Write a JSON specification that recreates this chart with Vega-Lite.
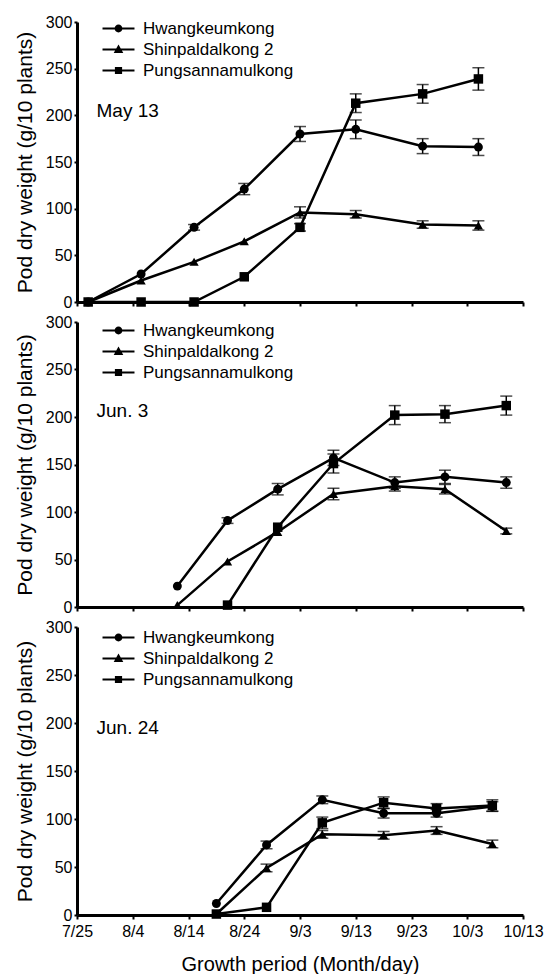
{
  "$schema": "https://vega.github.io/schema/vega-lite/v6.json",
  "padding": {"left": 14, "top": 14, "right": 5, "bottom": 0},
  "bounds": "flush",
  "spacing": 20,
  "datasets": {
    "p1": [
      {"v": "Hwangkeumkong", "d": 2, "w": 0, "e": 0},
      {"v": "Hwangkeumkong", "d": 11.5, "w": 30, "e": 0},
      {"v": "Hwangkeumkong", "d": 21, "w": 80, "e": 3},
      {"v": "Hwangkeumkong", "d": 30, "w": 121, "e": 6},
      {"v": "Hwangkeumkong", "d": 40, "w": 180, "e": 8},
      {"v": "Hwangkeumkong", "d": 50, "w": 185, "e": 10},
      {"v": "Hwangkeumkong", "d": 62, "w": 167, "e": 8},
      {"v": "Hwangkeumkong", "d": 72, "w": 166, "e": 9},
      {"v": "Shinpaldalkong 2", "d": 2, "w": 0, "e": 0},
      {"v": "Shinpaldalkong 2", "d": 11.5, "w": 23, "e": 0},
      {"v": "Shinpaldalkong 2", "d": 21, "w": 43, "e": 0},
      {"v": "Shinpaldalkong 2", "d": 30, "w": 65, "e": 0},
      {"v": "Shinpaldalkong 2", "d": 40, "w": 96, "e": 6},
      {"v": "Shinpaldalkong 2", "d": 50, "w": 94, "e": 4},
      {"v": "Shinpaldalkong 2", "d": 62, "w": 83, "e": 4},
      {"v": "Shinpaldalkong 2", "d": 72, "w": 82, "e": 5},
      {"v": "Pungsannamulkong", "d": 2, "w": 0, "e": 0},
      {"v": "Pungsannamulkong", "d": 11.5, "w": 0, "e": 0},
      {"v": "Pungsannamulkong", "d": 21, "w": 0, "e": 0},
      {"v": "Pungsannamulkong", "d": 30, "w": 27, "e": 0},
      {"v": "Pungsannamulkong", "d": 40, "w": 80, "e": 4},
      {"v": "Pungsannamulkong", "d": 50, "w": 213, "e": 10},
      {"v": "Pungsannamulkong", "d": 62, "w": 223, "e": 10},
      {"v": "Pungsannamulkong", "d": 72, "w": 239, "e": 12}
    ],
    "p2": [
      {"v": "Hwangkeumkong", "d": 18, "w": 22, "e": 0},
      {"v": "Hwangkeumkong", "d": 27, "w": 91, "e": 3},
      {"v": "Hwangkeumkong", "d": 36, "w": 124, "e": 6},
      {"v": "Hwangkeumkong", "d": 46, "w": 157, "e": 8},
      {"v": "Hwangkeumkong", "d": 57, "w": 131, "e": 6},
      {"v": "Hwangkeumkong", "d": 66, "w": 137, "e": 7},
      {"v": "Hwangkeumkong", "d": 77, "w": 131, "e": 6},
      {"v": "Shinpaldalkong 2", "d": 18, "w": 2, "e": 0},
      {"v": "Shinpaldalkong 2", "d": 27, "w": 48, "e": 0},
      {"v": "Shinpaldalkong 2", "d": 36, "w": 79, "e": 0},
      {"v": "Shinpaldalkong 2", "d": 46, "w": 119, "e": 6},
      {"v": "Shinpaldalkong 2", "d": 57, "w": 127, "e": 5},
      {"v": "Shinpaldalkong 2", "d": 66, "w": 124, "e": 5},
      {"v": "Shinpaldalkong 2", "d": 77, "w": 80, "e": 3},
      {"v": "Pungsannamulkong", "d": 27, "w": 2, "e": 0},
      {"v": "Pungsannamulkong", "d": 36, "w": 84, "e": 0},
      {"v": "Pungsannamulkong", "d": 46, "w": 151, "e": 10},
      {"v": "Pungsannamulkong", "d": 57, "w": 202, "e": 10},
      {"v": "Pungsannamulkong", "d": 66, "w": 203, "e": 9},
      {"v": "Pungsannamulkong", "d": 77, "w": 212, "e": 10}
    ],
    "p3": [
      {"v": "Hwangkeumkong", "d": 25, "w": 12, "e": 0},
      {"v": "Hwangkeumkong", "d": 34, "w": 73, "e": 4},
      {"v": "Hwangkeumkong", "d": 44, "w": 120, "e": 4},
      {"v": "Hwangkeumkong", "d": 55, "w": 106, "e": 5},
      {"v": "Hwangkeumkong", "d": 64.5, "w": 106, "e": 4},
      {"v": "Hwangkeumkong", "d": 74.5, "w": 113, "e": 5},
      {"v": "Shinpaldalkong 2", "d": 25, "w": 1, "e": 0},
      {"v": "Shinpaldalkong 2", "d": 34, "w": 49, "e": 4},
      {"v": "Shinpaldalkong 2", "d": 44, "w": 84, "e": 4},
      {"v": "Shinpaldalkong 2", "d": 55, "w": 83, "e": 4},
      {"v": "Shinpaldalkong 2", "d": 64.5, "w": 88, "e": 4},
      {"v": "Shinpaldalkong 2", "d": 74.5, "w": 74, "e": 4},
      {"v": "Pungsannamulkong", "d": 25, "w": 1, "e": 0},
      {"v": "Pungsannamulkong", "d": 34, "w": 8, "e": 0},
      {"v": "Pungsannamulkong", "d": 44, "w": 96, "e": 6},
      {"v": "Pungsannamulkong", "d": 55, "w": 117, "e": 6},
      {"v": "Pungsannamulkong", "d": 64.5, "w": 111, "e": 5},
      {"v": "Pungsannamulkong", "d": 74.5, "w": 114, "e": 6}
    ]
  },
  "vconcat": [
    {
      "width": 446, "height": 280,
      "layer": [
        {"data": {"name": "p1"}, "mark": {"type": "line", "color": "black", "strokeWidth": 2.5},
         "encoding": {
           "x": {"field": "d", "type": "quantitative", "scale": {"domain": [0, 80], "nice": false}, "axis": {"values": [0,10,20,30,40,50,60,70,80], "labels": false, "title": null}},
           "y": {"field": "w", "type": "quantitative", "scale": {"domain": [0, 300], "nice": false}, "axis": {"values": [0,50,100,150,200,250,300], "title": "Pod dry weight (g/10 plants)"}},
           "detail": {"field": "v"}}},
        {"data": {"name": "p1"}, "transform": [{"filter": "datum.e > 0"}],
         "mark": {"type": "errorbar", "ticks": {"size": 12}, "thickness": 1.5, "color": "black"},
         "encoding": {
           "x": {"field": "d", "type": "quantitative", "axis": {"values": [0,10,20,30,40,50,60,70,80], "labels": false, "title": null}},
           "y": {"field": "w", "type": "quantitative", "title": "Pod dry weight (g/10 plants)"},
           "yError": {"field": "e"}}},
        {"data": {"name": "p1"}, "mark": {"type": "point", "filled": true, "color": "black", "opacity": 1},
         "encoding": {
           "x": {"field": "d", "type": "quantitative", "title": null},
           "y": {"field": "w", "type": "quantitative", "title": "Pod dry weight (g/10 plants)"},
           "shape": {"field": "v", "type": "nominal", "scale": {"domain": ["Hwangkeumkong", "Shinpaldalkong 2", "Pungsannamulkong"], "range": ["circle", "triangle-up", "square"]}, "legend": null},
           "size": {"field": "v", "type": "nominal", "scale": {"domain": ["Hwangkeumkong", "Shinpaldalkong 2", "Pungsannamulkong"], "range": [80, 90, 95]}, "legend": null}}},
        {"data": {"name": "p1"}, "transform": [{"filter": "false"}],
         "mark": {"type": "point", "filled": true, "color": "black", "size": 36, "opacity": 1},
         "encoding": {
           "x": {"field": "d", "type": "quantitative", "title": null},
           "y": {"field": "w", "type": "quantitative", "title": "Pod dry weight (g/10 plants)"},
           "shape": {"field": "v", "type": "nominal", "scale": {"domain": ["Hwangkeumkong", "Shinpaldalkong 2", "Pungsannamulkong"], "range": ["M-5.33,-0.33L5.33,-0.33L5.33,0.33L-5.33,0.33ZM1.3,0A1.3,1.3,0,1,1,-1.3,0A1.3,1.3,0,1,1,1.3,0Z", "M-5.33,-0.33L5.33,-0.33L5.33,0.33L-5.33,0.33ZM0,-1.7L1.6,1.2L-1.6,1.2Z", "M-5.33,-0.33L5.33,-0.33L5.33,0.33L-5.33,0.33ZM-1.2,-1.2L1.2,-1.2L1.2,1.2L-1.2,1.2Z"]}, "legend": {"title": null, "legendY": -2}}}},
        {"data": {"values": [{"t": "May 13"}]}, "mark": {"type": "text", "align": "left", "baseline": "middle", "fontSize": 19, "color": "black"},
         "encoding": {"x": {"datum": 3.5, "type": "quantitative"}, "y": {"datum": 205, "type": "quantitative"}, "text": {"field": "t"}}}
      ],
      "resolve": {"scale": {"shape": "independent", "size": "independent"}, "legend": {"shape": "independent"}}
    },
    {
      "width": 446, "height": 285,
      "layer": [
        {"data": {"name": "p2"}, "mark": {"type": "line", "color": "black", "strokeWidth": 2.5},
         "encoding": {
           "x": {"field": "d", "type": "quantitative", "scale": {"domain": [0, 80], "nice": false}, "axis": {"values": [0,10,20,30,40,50,60,70,80], "labels": false, "title": null}},
           "y": {"field": "w", "type": "quantitative", "scale": {"domain": [0, 300], "nice": false}, "axis": {"values": [0,50,100,150,200,250,300], "title": "Pod dry weight (g/10 plants)"}},
           "detail": {"field": "v"}}},
        {"data": {"name": "p2"}, "transform": [{"filter": "datum.e > 0"}],
         "mark": {"type": "errorbar", "ticks": {"size": 12}, "thickness": 1.5, "color": "black"},
         "encoding": {
           "x": {"field": "d", "type": "quantitative", "axis": {"values": [0,10,20,30,40,50,60,70,80], "labels": false, "title": null}},
           "y": {"field": "w", "type": "quantitative", "title": "Pod dry weight (g/10 plants)"},
           "yError": {"field": "e"}}},
        {"data": {"name": "p2"}, "mark": {"type": "point", "filled": true, "color": "black", "opacity": 1},
         "encoding": {
           "x": {"field": "d", "type": "quantitative", "title": null},
           "y": {"field": "w", "type": "quantitative", "title": "Pod dry weight (g/10 plants)"},
           "shape": {"field": "v", "type": "nominal", "scale": {"domain": ["Hwangkeumkong", "Shinpaldalkong 2", "Pungsannamulkong"], "range": ["circle", "triangle-up", "square"]}, "legend": null},
           "size": {"field": "v", "type": "nominal", "scale": {"domain": ["Hwangkeumkong", "Shinpaldalkong 2", "Pungsannamulkong"], "range": [80, 90, 95]}, "legend": null}}},
        {"data": {"name": "p2"}, "transform": [{"filter": "false"}],
         "mark": {"type": "point", "filled": true, "color": "black", "size": 36, "opacity": 1},
         "encoding": {
           "x": {"field": "d", "type": "quantitative", "title": null},
           "y": {"field": "w", "type": "quantitative", "title": "Pod dry weight (g/10 plants)"},
           "shape": {"field": "v", "type": "nominal", "scale": {"domain": ["Hwangkeumkong", "Shinpaldalkong 2", "Pungsannamulkong"], "range": ["M-5.33,-0.33L5.33,-0.33L5.33,0.33L-5.33,0.33ZM1.3,0A1.3,1.3,0,1,1,-1.3,0A1.3,1.3,0,1,1,1.3,0Z", "M-5.33,-0.33L5.33,-0.33L5.33,0.33L-5.33,0.33ZM0,-1.7L1.6,1.2L-1.6,1.2Z", "M-5.33,-0.33L5.33,-0.33L5.33,0.33L-5.33,0.33ZM-1.2,-1.2L1.2,-1.2L1.2,1.2L-1.2,1.2Z"]}, "legend": {"title": null, "legendY": 0}}}},
        {"data": {"values": [{"t": "Jun. 3"}]}, "mark": {"type": "text", "align": "left", "baseline": "middle", "fontSize": 19, "color": "black"},
         "encoding": {"x": {"datum": 3.5, "type": "quantitative"}, "y": {"datum": 206, "type": "quantitative"}, "text": {"field": "t"}}}
      ],
      "resolve": {"scale": {"shape": "independent", "size": "independent"}, "legend": {"shape": "independent"}}
    },
    {
      "width": 446, "height": 288,
      "layer": [
        {"data": {"name": "p3"}, "mark": {"type": "line", "color": "black", "strokeWidth": 2.5},
         "encoding": {
           "x": {"field": "d", "type": "quantitative", "scale": {"domain": [0, 80], "nice": false}, "axis": {"values": [0,10,20,30,40,50,60,70,80], "labelExpr": "['7/25','8/4','8/14','8/24','9/3','9/13','9/23','10/3','10/13'][round(datum.value/10)]", "labelFlush": false, "title": "Growth period (Month/day)"}},
           "y": {"field": "w", "type": "quantitative", "scale": {"domain": [0, 300], "nice": false}, "axis": {"values": [0,50,100,150,200,250,300], "title": "Pod dry weight (g/10 plants)"}},
           "detail": {"field": "v"}}},
        {"data": {"name": "p3"}, "transform": [{"filter": "datum.e > 0"}],
         "mark": {"type": "errorbar", "ticks": {"size": 12}, "thickness": 1.5, "color": "black"},
         "encoding": {
           "x": {"field": "d", "type": "quantitative", "title": "Growth period (Month/day)"},
           "y": {"field": "w", "type": "quantitative", "title": "Pod dry weight (g/10 plants)"},
           "yError": {"field": "e"}}},
        {"data": {"name": "p3"}, "mark": {"type": "point", "filled": true, "color": "black", "opacity": 1},
         "encoding": {
           "x": {"field": "d", "type": "quantitative", "title": "Growth period (Month/day)"},
           "y": {"field": "w", "type": "quantitative", "title": "Pod dry weight (g/10 plants)"},
           "shape": {"field": "v", "type": "nominal", "scale": {"domain": ["Hwangkeumkong", "Shinpaldalkong 2", "Pungsannamulkong"], "range": ["circle", "triangle-up", "square"]}, "legend": null},
           "size": {"field": "v", "type": "nominal", "scale": {"domain": ["Hwangkeumkong", "Shinpaldalkong 2", "Pungsannamulkong"], "range": [80, 90, 95]}, "legend": null}}},
        {"data": {"name": "p3"}, "transform": [{"filter": "false"}],
         "mark": {"type": "point", "filled": true, "color": "black", "size": 36, "opacity": 1},
         "encoding": {
           "x": {"field": "d", "type": "quantitative", "title": "Growth period (Month/day)"},
           "y": {"field": "w", "type": "quantitative", "title": "Pod dry weight (g/10 plants)"},
           "shape": {"field": "v", "type": "nominal", "scale": {"domain": ["Hwangkeumkong", "Shinpaldalkong 2", "Pungsannamulkong"], "range": ["M-5.33,-0.33L5.33,-0.33L5.33,0.33L-5.33,0.33ZM1.3,0A1.3,1.3,0,1,1,-1.3,0A1.3,1.3,0,1,1,1.3,0Z", "M-5.33,-0.33L5.33,-0.33L5.33,0.33L-5.33,0.33ZM0,-1.7L1.6,1.2L-1.6,1.2Z", "M-5.33,-0.33L5.33,-0.33L5.33,0.33L-5.33,0.33ZM-1.2,-1.2L1.2,-1.2L1.2,1.2L-1.2,1.2Z"]}, "legend": {"title": null, "legendY": 2}}}},
        {"data": {"values": [{"t": "Jun. 24"}]}, "mark": {"type": "text", "align": "left", "baseline": "middle", "fontSize": 19, "color": "black"},
         "encoding": {"x": {"datum": 3.5, "type": "quantitative"}, "y": {"datum": 195, "type": "quantitative"}, "text": {"field": "t"}}}
      ],
      "resolve": {"scale": {"shape": "independent", "size": "independent"}, "legend": {"shape": "independent"}}
    }
  ],
  "resolve": {"scale": {"shape": "independent", "size": "independent"}, "legend": {"shape": "independent"}},
  "config": {
    "font": "Liberation Sans",
    "view": {"stroke": null},
    "axis": {"grid": false, "domainColor": "black", "domainWidth": 3, "tickColor": "black", "tickWidth": 2, "labelColor": "black", "titleColor": "black", "labelFontSize": 16, "titleFontSize": 20, "titleFontWeight": "normal", "labelFont": "Liberation Sans", "titleFont": "Liberation Sans"},
    "axisX": {"tickSize": 4, "labelPadding": 4, "titlePadding": 15},
    "axisY": {"tickSize": 3, "labelPadding": 2, "titlePadding": 10, "titleFontSize": 21},
    "legend": {"orient": "none", "legendX": 33, "padding": 0, "labelFontSize": 17, "labelColor": "black", "labelFont": "Liberation Sans", "symbolSize": 36, "symbolStrokeWidth": 0, "symbolFillColor": "black", "symbolOpacity": 1, "rowPadding": 3, "labelOffset": 16}
  }
}
